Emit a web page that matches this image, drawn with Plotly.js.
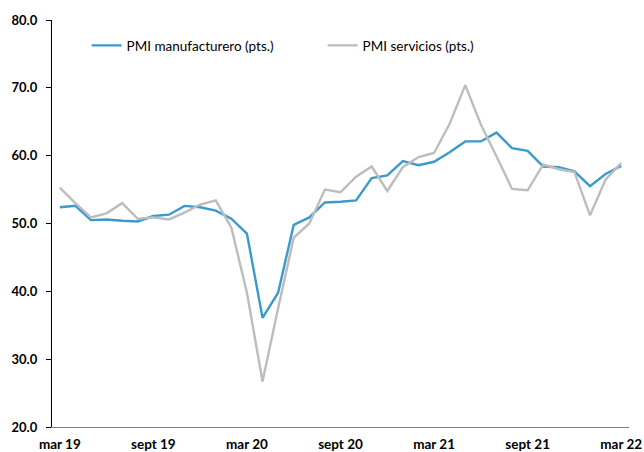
<!DOCTYPE html>
<html>
<head>
<meta charset="utf-8">
<script src="https://cdn.plot.ly/plotly-3.0.1.min.js"></script>
<style>html,body{margin:0;padding:0;background:#fff;}#chart{width:644px;height:452px;}</style>
</head>
<body>
<div id="chart"></div>
<script>
const months = ["mar 19","abr 19","may 19","jun 19","jul 19","ago 19","sept 19","oct 19","nov 19","dic 19","ene 20","feb 20",
  "mar 20","abr 20","may 20","jun 20","jul 20","ago 20","sept 20","oct 20","nov 20","dic 20","ene 21","feb 21",
  "mar 21","abr 21","may 21","jun 21","jul 21","ago 21","sept 21","oct 21","nov 21","dic 21","ene 22","feb 22","mar 22"];
const pmiManufacturero = [52.4,52.6,50.5,50.6,50.4,50.3,51.1,51.3,52.6,52.4,51.9,50.7,
  48.5,36.1,39.8,49.8,50.9,53.1,53.2,53.4,56.7,57.1,59.2,58.6,
  59.1,60.5,62.1,62.1,63.4,61.1,60.7,58.4,58.3,57.7,55.5,57.3,58.5];
const pmiServicios = [55.3,53.0,50.9,51.5,53.0,50.7,50.9,50.6,51.6,52.8,53.4,49.4,
  39.8,26.7,37.5,47.9,50.0,55.0,54.6,56.9,58.4,54.8,58.3,59.8,
  60.4,64.7,70.4,64.6,59.9,55.1,54.9,58.7,58.0,57.6,51.2,56.5,58.9];
const tickLabels = ["mar 19","sept 19","mar 20","sept 20","mar 21","sept 21","mar 22"];
const boundaryTicks = [-0.5,5.5,11.5,17.5,23.5,29.5,35.5];

const traces = [
  {x: months, y: pmiManufacturero, type: "scatter", mode: "lines", name: "PMI manufacturero (pts.)",
   line: {color: "#3A9BCB", width: 2.4}, legend: "legend"},
  {x: months, y: pmiServicios, type: "scatter", mode: "lines", name: "PMI servicios (pts.)",
   line: {color: "#BDBDBD", width: 2.4}, legend: "legend2"}
];

const layout = {
  width: 644, height: 452,
  margin: {l: 52, r: 15, t: 20, b: 25},
  paper_bgcolor: "#fff", plot_bgcolor: "#fff",
  font: {family: "Lato, 'Open Sans', sans-serif", color: "#000"},
  showlegend: true,
  legend: {x: 0.060, y: 0.937, xanchor: "left", yanchor: "middle", orientation: "h",
    bgcolor: "rgba(0,0,0,0)", font: {size: 13.5, family: "Lato, sans-serif", color: "#000"}},
  legend2: {x: 0.469, y: 0.937, xanchor: "left", yanchor: "middle", orientation: "h",
    bgcolor: "rgba(0,0,0,0)", font: {size: 13.5, family: "Lato, sans-serif", color: "#000"}},
  xaxis: {
    type: "category", categoryorder: "array", categoryarray: months,
    range: [-0.5, 36.5], tickmode: "array", tickvals: tickLabels, ticktext: tickLabels,
    ticks: "", showgrid: false, zeroline: false,
    showline: true, linecolor: "#808080", linewidth: 1.2,
    tickfont: {size: 13.5, family: "Lato, sans-serif", color: "#000", weight: "bold"},
    ticklabelstandoff: 5, fixedrange: true
  },
  xaxis2: {
    overlaying: "x", anchor: "y", range: [-0.5, 36.5], type: "linear",
    tickmode: "array", tickvals: boundaryTicks, ticks: "outside", ticklen: 4, tickwidth: 1,
    tickcolor: "#404040", showticklabels: false, showgrid: false, zeroline: false, showline: false
  },
  yaxis: {
    range: [20, 80], tickmode: "linear", tick0: 20, dtick: 10, tickformat: ".1f",
    ticks: "outside", ticklen: 5, tickwidth: 1, tickcolor: "#000",
    showline: true, linecolor: "#000", linewidth: 1.2, showgrid: false, zeroline: false,
    tickfont: {size: 13, family: "Lato, sans-serif", color: "#000", weight: "bold"},
    ticklabelstandoff: 6, fixedrange: true
  }
};

Plotly.newPlot("chart", traces, layout, {displayModeBar: false, staticPlot: true});
</script>
</body>
</html>
